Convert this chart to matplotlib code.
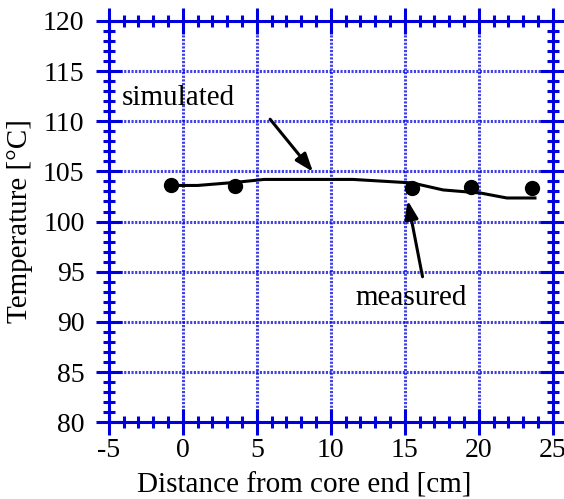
import matplotlib.pyplot as plt
from matplotlib.ticker import MultipleLocator

# measured points
meas_x = [-0.8, 3.5, 15.5, 19.5, 23.6]
meas_y = [103.6, 103.5, 103.3, 103.4, 103.3]

# simulated profile
sim_x = [-0.8, 1.0, 3.5, 5.5, 11.5, 15.5, 17.6, 20.1, 21.9, 23.8]
sim_y = [103.6, 103.6, 103.9, 104.2, 104.2, 103.85, 103.15, 102.85, 102.35, 102.35]

blue = '#0000dd'
plt.rcParams['font.family'] = ['Liberation Serif', 'DejaVu Serif']
plt.rcParams['axes.unicode_minus'] = False

fig = plt.figure(figsize=(5.64, 4.99), dpi=100)
ax = fig.add_axes([0.193, 0.154, 0.787, 0.804])

ax.plot(sim_x, sim_y, color='black', lw=2.2, zorder=3)
ax.plot(meas_x, meas_y, 'o', color='black', ms=10, zorder=4)

ax.set_xlim(-5, 25)
ax.set_ylim(80, 120)
ax.xaxis.set_major_locator(MultipleLocator(5))
ax.xaxis.set_minor_locator(MultipleLocator(1))
ax.yaxis.set_major_locator(MultipleLocator(5))
ax.yaxis.set_minor_locator(MultipleLocator(1))

ax.grid(True, which='major', color=blue, alpha=0.75, ls=(0, (0.7, 0.5)), lw=2.2)
for s in ax.spines.values():
    s.set_color(blue)
    s.set_linewidth(2.2)
ax.tick_params(which='both', direction='inout', top=True, right=True,
               color=blue, width=2.2, labelsize=20)
ax.tick_params(which='major', length=19)
ax.tick_params(which='minor', length=9)
ax.tick_params(axis='y', which='major', pad=8)
ax.tick_params(axis='x', which='major', pad=2)

ax.set_xlabel('Distance from core end [cm]', fontsize=21)
ax.set_ylabel('Temperature [\u00b0C]', fontsize=21)
ax.xaxis.set_label_coords(0.439, -0.125)
ax.yaxis.set_label_coords(-0.17, 0.5)

arrow = dict(arrowstyle='-|>,head_length=1.1,head_width=0.4',
             color='black', lw=2.2, shrinkA=0, shrinkB=0)
ax.text(-4.1, 112.3, 'simulated', fontsize=21, va='center', ha='left')
ax.annotate('', xy=(8.8, 104.95), xytext=(5.9, 110.2), arrowprops=arrow)
ax.text(15.4, 92.4, 'measured', fontsize=21, va='center', ha='center')
ax.annotate('', xy=(15.2, 102.1), xytext=(16.2, 94.5), arrowprops=arrow)

fig.savefig('out.png', dpi=100)
